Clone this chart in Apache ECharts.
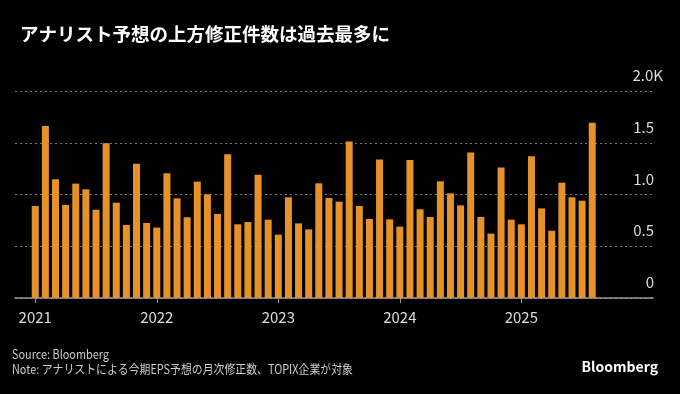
<!DOCTYPE html>
<html>
<head>
<meta charset="utf-8">
<script src="https://cdn.jsdelivr.net/npm/echarts@6/dist/echarts.min.js"></script>
<style>
html,body{margin:0;padding:0;background:#000;}
#chart{width:680px;height:394px;}
</style>
</head>
<body>
<div id="chart"></div>
<script>
// Monthly upward revisions (count), Jan 2021 – Aug 2025
var months = [
  '2021-01','2021-02','2021-03','2021-04','2021-05','2021-06','2021-07','2021-08','2021-09','2021-10','2021-11','2021-12',
  '2022-01','2022-02','2022-03','2022-04','2022-05','2022-06','2022-07','2022-08','2022-09','2022-10','2022-11','2022-12',
  '2023-01','2023-02','2023-03','2023-04','2023-05','2023-06','2023-07','2023-08','2023-09','2023-10','2023-11','2023-12',
  '2024-01','2024-02','2024-03','2024-04','2024-05','2024-06','2024-07','2024-08','2024-09','2024-10','2024-11','2024-12',
  '2025-01','2025-02','2025-03','2025-04','2025-05','2025-06','2025-07','2025-08'
];
var values = [
  889,1662,1147,899,1105,1050,853,1494,921,705,1298,725,
  680,1205,963,780,1124,1002,812,1388,712,734,1191,757,
  612,973,721,663,1108,966,931,1511,889,763,1337,760,
  689,1333,857,783,1127,1011,895,1407,783,622,1262,757,
  712,1369,866,650,1114,973,940,1694
];
var yTicks = [0, 500, 1000, 1500, 2000];
var yTickLabels = ['0', '0.5', '1.0', '1.5', '2.0K'];

var padBefore = 2, padAfter = 6;
var cats = [], data = [];
for (var i = 0; i < padBefore; i++) { cats.push('pre' + i); data.push(null); }
for (var j = 0; j < months.length; j++) { cats.push(months[j]); data.push(values[j]); }
for (var k = 0; k < padAfter; k++) { cats.push('post' + k); data.push(null); }

function isJan(v) { return /^\d{4}-01$/.test(v); }

var chart = echarts.init(document.getElementById('chart'), null, {renderer: 'canvas'});
var font = '"Noto Sans CJK JP", "Noto Sans", sans-serif';
chart.setOption({
  backgroundColor: '#000',
  animation: false,
  title: {
    text: 'アナリスト予想の上方修正件数は過去最多に',
    left: 15, top: 20,
    textStyle: {color: '#fff', fontSize: 18.5, fontWeight: 'bold', fontFamily: font}
  },
  grid: {left: 15, right: 27, top: 91, bottom: 96},
  xAxis: {
    type: 'category',
    data: cats,
    boundaryGap: false,
    axisLine: {lineStyle: {color: '#999', width: 1.5}},
    axisTick: {
      show: true, length: 5, lineStyle: {color: '#999'},
      interval: function (idx, v) { return isJan(v); }
    },
    axisLabel: {
      color: '#ddd', fontSize: 15, fontFamily: font, margin: 12,
      interval: function (idx, v) { return isJan(v); },
      formatter: function (v) { return v.slice(0, 4); }
    },
    splitLine: {show: false}
  },
  yAxis: {
    type: 'value',
    position: 'right',
    min: 0, max: 2000, interval: 500,
    axisLine: {show: false},
    axisTick: {show: false},
    splitLine: {show: true, lineStyle: {color: '#777', type: [2, 3], width: 1}},
    axisLabel: {
      margin: 10,
      align: 'right',
      verticalAlign: 'bottom',
      color: '#ddd', fontSize: 15, fontFamily: font,
      formatter: function (v) {
        var lbl = yTickLabels[yTicks.indexOf(v)];
        return v === 2000 ? '{k|' + lbl + '}' : '{n|' + lbl + '}';
      },
      rich: {
        k: {color: '#ddd', fontSize: 15, fontFamily: font, padding: [0, 0, 8, 0]},
        n: {color: '#ddd', fontSize: 15, fontFamily: font, padding: [0, 9, 8, 0]}
      }
    }
  },
  series: [{
    type: 'bar',
    data: data,
    barWidth: 7,
    itemStyle: {color: '#E6922B'}
  }],
  graphic: [
    {type: 'text', x: 12, y: 348, scaleX: 0.87, scaleY: 1,
     style: {text: 'Source: Bloomberg', fill: '#ccc', fontSize: 12.5, fontFamily: font}},
    {type: 'text', x: 12, y: 363, scaleX: 0.87, scaleY: 1,
     style: {text: 'Note: アナリストによる今期EPS予想の月次修正数、TOPIX企業が対象', fill: '#ccc', fontSize: 12.5, fontFamily: font}},
    {type: 'text', right: 22, top: 360,
     style: {text: 'Bloomberg', fill: '#fff', fontSize: 14, fontWeight: 'bold', fontFamily: font}}
  ]
});
</script>
</body>
</html>
